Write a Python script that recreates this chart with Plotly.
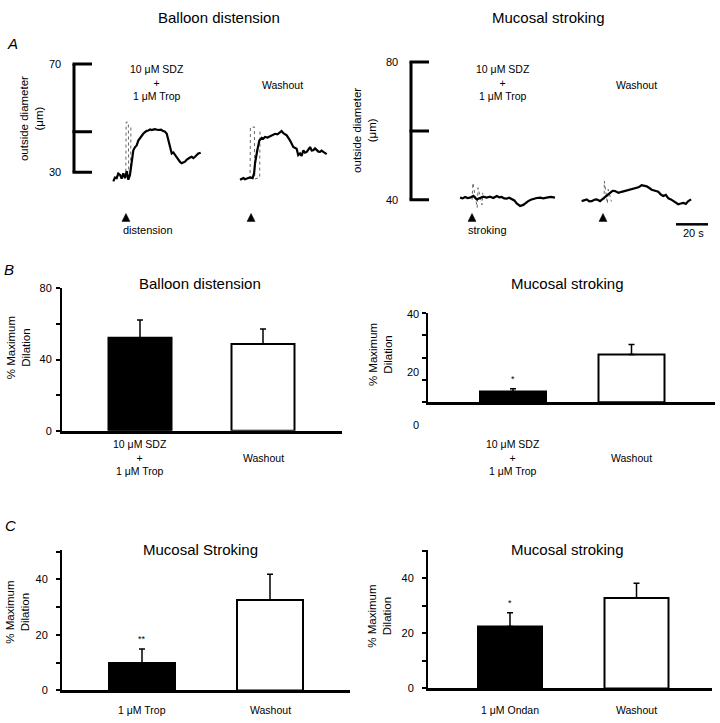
import plotly.graph_objects as go

W, H = 720, 723
FONT = "Liberation Sans, Arial, sans-serif"

# ====================== DATA ======================
# Panel A – outside diameter (µm) vs time (s)
bd_sdz_t = [0.2, 1.2, 2.3, 3.3, 4.4, 5.4, 6.4, 7.5, 8.6, 9.6, 10.6, 11.7, 12.1, 12.7, 13.8, 14.8, 15.8, 16.8,
            17.9, 19.0, 20.0, 21.0, 22.1, 23.2, 24.2, 26.0, 28.3, 30.0, 31.4, 32.5, 33.6, 34.6, 35.6, 36.7,
            37.7, 38.8, 39.8, 40.8, 41.9, 42.9, 44.0, 45.0, 46.0, 47.1, 48.1, 49.2, 50.2, 51.3, 52.3,
            53.3, 54.8]
bd_sdz_d = [26.6, 28.0, 27.8, 29.5, 29.0, 27.6, 29.6, 27.8, 30.4, 27.2, 29.0, 33.3, 35.8, 38.1, 39.3, 39.9,
            41.7, 42.5, 43.6, 44.3, 44.8, 45.3, 45.4, 45.8, 45.6, 45.9, 45.6, 45.7, 45.2, 45.0, 44.2, 41.7,
            38.7, 36.9, 37.3, 36.3, 35.6, 34.5, 33.8, 33.3, 33.6, 33.9, 34.6, 35.1, 35.4, 35.7, 35.2,
            35.7, 36.3, 36.9, 37.2]
bd_sdz_art_t = [8.0, 8.2, 9.6, 9.8, 11.0, 11.2]
bd_sdz_art_d = [28.0, 48.5, 48.5, 30.0, 31.0, 47.0]

bd_wash_t = [0.0, 1.0, 2.1, 3.1, 4.2, 5.2, 6.3, 7.9, 8.8, 9.4, 10.0, 10.8, 12.1, 13.6, 14.6, 15.6, 17.2,
             18.8, 20.3, 21.9, 23.4, 25.0, 26.0, 27.1, 29.2, 31.3, 33.3, 35.4, 36.4, 37.5, 38.5, 39.6,
             40.6, 41.7, 42.7, 43.8, 44.8, 45.8, 46.9, 47.9, 49.0, 50.0, 51.0, 52.1, 53.1, 54.2]
bd_wash_d = [27.2, 27.6, 27.8, 27.4, 27.6, 28.0, 28.1, 27.8, 29.6, 33.3, 36.3, 38.1, 41.7, 42.7, 42.4,
             43.0, 42.8, 43.3, 43.6, 44.2, 44.0, 44.8, 45.2, 44.4, 43.6, 41.7, 39.3, 38.7, 36.3, 36.9,
             36.0, 38.1, 37.2, 37.5, 38.6, 39.3, 38.0, 38.1, 38.8, 38.1, 37.6, 37.5, 38.0, 37.5, 37.0, 36.7]
bd_wash_art_t = [6.3, 6.5, 9.0, 9.2, 12.3, 12.5]
bd_wash_art_d = [27.5, 46.7, 46.7, 27.5, 28.0, 46.0]

ms_sdz_t = [1.3, 2.9, 4.4, 6.0, 7.5, 9.6, 11.7, 13.8, 15.8, 17.9, 20.0, 22.1, 24.2, 25.8, 27.3, 28.9, 30.4,
            32.0, 33.6, 35.2, 36.7, 38.8, 40.8, 42.4, 43.9, 45.5, 47.1, 49.2, 51.3, 53.3, 55.4, 58.0, 60.6]
ms_sdz_d = [40.6, 40.4, 40.8, 40.5, 40.6, 41.1, 40.1, 40.6, 40.9, 40.6, 40.9, 40.5, 41.1, 40.7, 40.8, 40.4,
            40.3, 40.6, 40.1, 39.8, 38.9, 38.2, 38.5, 39.2, 39.6, 40.0, 40.3, 40.5, 40.6, 40.4, 40.6, 40.8, 40.6]
ms_sdz_art_t = [8.8, 9.3, 12.0, 12.5, 15.0, 15.5]
ms_sdz_art_d = [40.0, 44.9, 37.7, 43.5, 38.5, 42.0]

ms_wash_t = [0.4, 2.0, 3.6, 5.2, 6.7, 8.3, 9.8, 11.9, 13.9, 16.1, 18.1, 19.7, 21.3, 23.4, 25.4, 27.5, 29.6,
             31.7, 33.8, 35.9, 37.9, 39.5, 41.1, 42.7, 44.2, 46.3, 48.3, 49.9, 51.4, 53.0, 54.6, 56.2, 57.7,
             59.3, 60.8, 62.4, 63.9, 65.5, 67.1, 68.8]
ms_wash_d = [39.6, 39.9, 40.1, 39.5, 39.6, 40.0, 40.1, 39.6, 40.4, 41.1, 42.0, 42.6, 42.5, 42.0, 42.3, 42.6,
             42.9, 43.1, 43.4, 43.6, 44.2, 44.0, 43.9, 43.4, 42.9, 42.6, 42.3, 41.5, 41.1, 41.4, 40.4, 40.1,
             39.6, 39.0, 38.7, 38.9, 39.1, 38.8, 39.6, 40.1]
ms_wash_art_t = [14.4, 14.6, 16.5, 17.0, 19.0]
ms_wash_art_d = [40.0, 45.4, 38.9, 43.0, 39.5]

stim_bd = [8.1, 6.9]        # stimulus onset (s) for SDZ trace / washout trace
stim_ms = [8.75, 13.75]
scale_bd = [30, 45, 70]     # µm scale bar ticks
scale_bd_labels = ["30", "", "70"]
scale_ms = [40, 60, 80]
scale_ms_labels = ["40", "", "80"]
time_bar_s = 20

drug_label = "10 μM SDZ<br>+<br>1 μM Trop"
wash_label = "Washout"

# Panel B – % maximum dilation
cats_B = ["10 μM SDZ<br>+<br>1 μM Trop", "Washout"]
bd_mean = [52.2, 48.7]
bd_sem = [10.0, 8.5]
msB_mean = [4.8, 21.4]
msB_sem = [1.3, 4.4]
sig_msB = ["*", ""]
msB_tick_labels = ["40", "20", "0"]

# Panel C
cats_C1 = ["1 μM Trop", "Washout"]
trop_mean = [9.9, 32.6]
trop_sem = [5.0, 9.2]
sig_trop = ["**", ""]
cats_C2 = ["1 μM Ondan", "Washout"]
ondan_mean = [22.5, 32.9]
ondan_sem = [5.0, 5.3]
sig_ondan = ["*", ""]

# ====================== HELPERS ======================
def px(x):
    return x / W


def py(y):
    return 1 - y / H


def rng(p0, p1, va, pa, vb, pb):
    k = (vb - va) / (pb - pa)
    return [va + (p0 - pa) * k, va + (p1 - pa) * k]


fig = go.Figure()
ann = []
shapes = []


def txt(x, y, s, size=11, xref="paper", yref="paper", xanchor="center", yanchor="middle", **kw):
    ann.append(dict(x=x, y=y, xref=xref, yref=yref, text=s, showarrow=False,
                    xanchor=xanchor, yanchor=yanchor, font=dict(size=size, family=FONT, color="black"), **kw))


# ====================== PANEL A ======================
def trace_line(t, d, xa, ya):
    fig.add_trace(go.Scatter(x=t, y=d, mode="lines", xaxis=xa, yaxis=ya,
                             line=dict(color="black", width=2.2), hoverinfo="skip"))


def art_line(t, d, xa, ya):
    fig.add_trace(go.Scatter(x=t, y=d, mode="lines", xaxis=xa, yaxis=ya,
                             line=dict(color="#666", width=1, dash="dot"), hoverinfo="skip"))


art_line(bd_sdz_art_t, bd_sdz_art_d, "x", "y")
trace_line(bd_sdz_t, bd_sdz_d, "x", "y")
art_line(bd_wash_art_t, bd_wash_art_d, "x2", "y")
trace_line(bd_wash_t, bd_wash_d, "x2", "y")
art_line(ms_sdz_art_t, ms_sdz_art_d, "x3", "y2")
trace_line(ms_sdz_t, ms_sdz_d, "x3", "y2")
art_line(ms_wash_art_t, ms_wash_art_d, "x4", "y2")
trace_line(ms_wash_t, ms_wash_d, "x4", "y2")

hidden = dict(visible=False, fixedrange=True)
layout_axes = {}
layout_axes["yaxis"] = dict(domain=[py(200), py(50)], range=rng(200, 50, 70, 59, 30, 169), anchor="x", **hidden)
layout_axes["xaxis"] = dict(domain=[px(105), px(215)], range=rng(105, 215, 0, 113, 1, 114.6), anchor="y", **hidden)
layout_axes["xaxis2"] = dict(domain=[px(230), px(340)], range=rng(230, 340, 0, 240, 1, 241.6), anchor="y", **hidden)
layout_axes["yaxis2"] = dict(domain=[py(215), py(45)], range=rng(215, 45, 80, 57, 40, 197), anchor="x3", **hidden)
layout_axes["xaxis3"] = dict(domain=[px(450), px(568)], range=rng(450, 568, 0, 458, 1, 459.6), anchor="y2", **hidden)
layout_axes["xaxis4"] = dict(domain=[px(572), px(716)], range=rng(572, 716, 0, 581, 1, 582.6), anchor="y2", **hidden)

# scale bars (µm)
for xline, xtick, vals, labs, yref in [(74, 92, scale_bd, scale_bd_labels, "y"),
                                       (411, 429, scale_ms, scale_ms_labels, "y2")]:
    shapes.append(dict(type="line", xref="paper", yref=yref, x0=px(xline), x1=px(xline),
                       y0=min(vals), y1=max(vals), line=dict(color="black", width=3)))
    for v, lab in zip(vals, labs):
        shapes.append(dict(type="line", xref="paper", yref=yref, x0=px(xline - 1.5), x1=px(xtick),
                           y0=v, y1=v, line=dict(color="black", width=3)))
        if lab:
            txt(px(xline - 11), v, lab, xref="paper", yref=yref, xanchor="right")

# time scale bar
x0_bar = (676 - 581) / 1.6
shapes.append(dict(type="line", xref="x4", yref="paper", x0=x0_bar, x1=x0_bar + time_bar_s,
                   y0=py(222), y1=py(222), line=dict(color="black", width=2.5)))
txt(x0_bar + time_bar_s / 2 + 1, py(231), f"{time_bar_s} s", xref="x4")

# stimulus triangles (pixel-sized path shapes anchored at stimulus time)
for xa, t in [("x", stim_bd[0]), ("x2", stim_bd[1]), ("x3", stim_ms[0]), ("x4", stim_ms[1])]:
    shapes.append(dict(type="path", xref=xa, yref="paper", xsizemode="pixel", ysizemode="pixel",
                       xanchor=t, yanchor=py(215), path="M -4 -4 L 4 -4 L 0 4 Z",
                       fillcolor="black", line=dict(color="black", width=0.5)))
txt(px(148), py(228), "distension")
txt(px(487), py(228), "stroking")

# drug labels
txt(px(157), py(78), drug_label, size=10.5)
txt(px(282), py(80), wash_label, size=10.5)
txt(px(503), py(78), drug_label, size=10.5)
txt(px(636), py(80), wash_label, size=10.5)

# y titles
txt(px(31), py(115), "outside diameter<br>(μm)", size=11.5, textangle=-90)
txt(px(365), py(127), "outside diameter<br>(μm)", size=11.5, textangle=-90)

# titles and letters
txt(px(219), py(12), "Balloon distension", size=15)
txt(px(548), py(12), "Mucosal stroking", size=15)
txt(px(12), py(38), "<i>A</i>", size=15)
txt(px(9), py(268), "<i>B</i>", size=15)
txt(px(10), py(528), "<i>C</i>", size=15)


# ====================== BAR PANELS ======================
def bar_panel(xa, ya, cats, mean, sem, sig, xdom, centers, bw_px, ydom, yref_pts,
              tickvals, ticktext, label_y, title, title_xy, ytitle_xy, standoff):
    xn = "xaxis" + xa[1:]
    yn = "yaxis" + ya[1:]
    unit = centers[1] - centers[0]
    fig.add_trace(go.Bar(x=list(range(len(cats))), y=mean, xaxis=xa, yaxis=ya, width=bw_px / unit,
                         marker=dict(color=["black", "white"], line=dict(color="black", width=2)),
                         error_y=dict(type="data", symmetric=False, array=sem, arrayminus=[0] * len(sem),
                                      color="black", thickness=1.5, width=3),
                         hoverinfo="skip"))
    layout_axes[xn] = dict(domain=[px(xdom[0]), px(xdom[1])],
                           range=rng(xdom[0], xdom[1], 0, centers[0], 1, centers[1]),
                           anchor=ya, showline=True, linecolor="black", linewidth=2.5,
                           ticks="", showticklabels=False, showgrid=False, zeroline=False, fixedrange=True)
    (va, pa), (vb, pb) = yref_pts
    layout_axes[yn] = dict(domain=[py(ydom[0]), py(ydom[1])],
                           range=rng(ydom[0], ydom[1], va, pa, vb, pb),
                           anchor=xa, showline=True, linecolor="black", linewidth=2,
                           ticks="outside", ticklen=4, tickwidth=1.5, tickcolor="black",
                           tickvals=tickvals, ticktext=ticktext, showticklabels=ticktext is not None,
                           ticklabelstandoff=standoff,
                           tickfont=dict(size=11, family=FONT, color="black"),
                           showgrid=False, zeroline=False, fixedrange=True)
    for i, c in enumerate(cats):
        txt(i, py(label_y), c, size=10.5, xref=xa)
        if sig[i]:
            ann.append(dict(x=i, y=mean[i] + sem[i], xref=xa, yref=ya, text=sig[i], showarrow=False,
                            yanchor="bottom", yshift=3, font=dict(size=9, family=FONT, color="black")))
    txt(px(title_xy[0]), py(title_xy[1]), title, size=15)
    txt(px(ytitle_xy[0]), py(ytitle_xy[1]), "% Maximum<br>Dilation", size=11.5, textangle=-90)


bar_panel("x5", "y3", cats_B, bd_mean, bd_sem, ["", ""], (62, 342), (140, 263), 63,
          (432, 287), ((0, 432), (80, 287)), [0, 20, 40, 60, 80], ["0", "", "40", "", "80"],
          459.5, "Balloon distension", (200, 282), (18, 348), 2)
bar_panel("x6", "y4", cats_B, msB_mean, msB_sem, sig_msB, (428, 715), (513, 631.5), 66,
          (403, 312), ((0, 403), (40, 312)), [0, 10, 20, 30, 40], None,
          459.5, "Mucosal stroking", (567, 282), (380, 355), 2)
for lab, yy in zip(msB_tick_labels, [313, 372, 426]):
    txt(px(421), py(yy), lab, xanchor="right")
bar_panel("x7", "y5", cats_C1, trop_mean, trop_sem, sig_trop, (62, 350), (142, 270), 66,
          (696, 553), ((0, 696), (40, 583)), [0, 10, 20, 30, 40, 50], ["0", "", "20", "", "40", ""],
          716, "Mucosal Stroking", (200, 553), (18, 617), 6)
bar_panel("x8", "y6", cats_C2, ondan_mean, ondan_sem, sig_ondan, (428, 712), (510, 636.5), 64,
          (694, 553), ((0, 694), (40, 582)), [0, 10, 20, 30, 40, 50], ["0", "", "20", "", "40", ""],
          716, "Mucosal stroking", (567, 553), (380, 621), 6)

fig.update_layout(width=W, height=H, margin=dict(l=0, r=0, t=0, b=0),
                  paper_bgcolor="white", plot_bgcolor="white", showlegend=False,
                  font=dict(family=FONT, color="black"),
                  annotations=ann, shapes=shapes, **layout_axes)

post = ("var gd=document.getElementById('{plot_id}');"
        "gd.style.position='fixed';gd.style.top='0px';gd.style.left='0px';gd.style.margin='0';"
        "document.body.style.margin='0';document.body.style.padding='0';"
        "document.body.style.overflow='hidden';document.documentElement.style.overflow='hidden';"
        "document.body.style.height='723px';document.documentElement.style.height='723px';")
fig.write_html("out.html", config={"displayModeBar": False}, post_script=post)
